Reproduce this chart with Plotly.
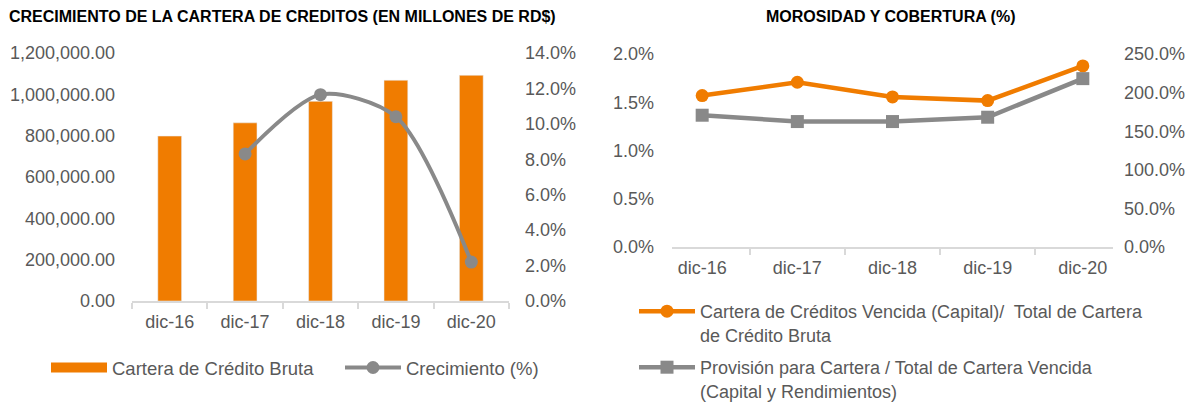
import plotly.graph_objects as go

# ---- data ----
categories = ["dic-16", "dic-17", "dic-18", "dic-19", "dic-20"]
cartera_bruta = [798000, 862000, 966000, 1068000, 1092000]
crecimiento_cat = ["dic-17", "dic-18", "dic-19", "dic-20"]
crecimiento = [0.083, 0.1165, 0.104, 0.022]
morosidad = [0.01569, 0.01707, 0.01555, 0.01517, 0.01876]
cobertura = [1.707, 1.625, 1.625, 1.681, 2.181]

title_left = "CRECIMIENTO DE LA CARTERA DE CREDITOS (EN MILLONES DE RD$)"
title_right = "MOROSIDAD Y COBERTURA (%)"
name_bar = "Cartera de Crédito Bruta"
name_growth = "Crecimiento (%)"
name_moro = "Cartera de Créditos Vencida (Capital)/  Total de Cartera<br>de Crédito Bruta"
name_cob = "Provisión para Cartera / Total de Cartera Vencida<br>(Capital y Rendimientos)"

ORANGE = "#F07C00"
GRAY = "#898989"
TXT = "#595959"
AXIS = "#D9D9D9"
FONT = "Liberation Sans, Arial, sans-serif"

W, H = 1194, 402
def px(x):
    return x / W
def py(y):
    return 1 - y / H

fig = go.Figure()

# left chart
fig.add_trace(go.Bar(x=categories, y=cartera_bruta, marker_color=ORANGE,
                     showlegend=False, xaxis="x", yaxis="y"))
fig.add_trace(go.Scatter(x=[None], y=[None], mode="lines", name=name_bar,
                         line=dict(color=ORANGE, width=10), xaxis="x", yaxis="y",
                         legend="legend"))
fig.add_trace(go.Scatter(x=crecimiento_cat, y=crecimiento, mode="lines+markers",
                         name=name_growth, line=dict(color=GRAY, width=4, shape="spline", smoothing=0.8),
                         marker=dict(color=GRAY, size=13, symbol="circle"),
                         xaxis="x", yaxis="y2", legend="legend2"))

# right chart
fig.add_trace(go.Scatter(x=categories, y=morosidad, mode="lines+markers", name=name_moro,
                         line=dict(color=ORANGE, width=4.5),
                         marker=dict(color=ORANGE, size=13, symbol="circle"),
                         xaxis="x2", yaxis="y3", legend="legend3"))
fig.add_trace(go.Scatter(x=categories, y=cobertura, mode="lines+markers", name=name_cob,
                         line=dict(color=GRAY, width=4.5),
                         marker=dict(color=GRAY, size=13, symbol="square"),
                         xaxis="x2", yaxis="y4", legend="legend4"))

tickfont = dict(family=FONT, size=18, color=TXT)
xcommon = dict(type="category", showline=True, linecolor=AXIS, linewidth=1.5,
               ticks="outside", tickson="boundaries", ticklen=6, tickcolor=AXIS, tickwidth=1.5,
               ticklabelstandoff=4, automargin=False,
               showgrid=False, zeroline=False, tickfont=tickfont, fixedrange=True)
ycommon = dict(showgrid=False, zeroline=False, showline=False, tickfont=tickfont,
               automargin=False, fixedrange=True)
legfont = dict(family=FONT, size=18.5, color=TXT)
legfont_r = dict(family=FONT, size=18, color=TXT)

fig.update_layout(
    width=W, height=H, margin=dict(l=0, r=0, t=0, b=0, autoexpand=False),
    paper_bgcolor="white", plot_bgcolor="white",
    bargap=0.685,
    font=dict(family=FONT, color=TXT),
    xaxis=dict(domain=[px(132), px(509)], anchor="y", **xcommon),
    yaxis=dict(domain=[py(301), py(53)], range=[0, 1200000], dtick=200000,
               tickformat=",.2f", ticklabelstandoff=16, **ycommon),
    yaxis2=dict(overlaying="y", side="right", anchor="x", range=[0, 0.14], dtick=0.02,
                tickformat=".1%", ticklabelstandoff=15, **ycommon),
    xaxis2=dict(domain=[px(672), px(1113)], anchor="y3", **xcommon),
    yaxis3=dict(domain=[py(247), py(54)], anchor="x2", range=[0, 0.02], dtick=0.005,
                tickformat=".1%", ticklabelstandoff=17, **ycommon),
    yaxis4=dict(overlaying="y3", side="right", anchor="x2", range=[0, 2.5], dtick=0.5,
                tickformat=".1%", ticklabelstandoff=10, **ycommon),
    legend=dict(x=px(46), y=py(368), xanchor="left", yanchor="middle", itemwidth=56,
                font=legfont, bgcolor="rgba(0,0,0,0)"),
    legend2=dict(x=px(340), y=py(368), xanchor="left", yanchor="middle", itemwidth=56,
                 font=legfont, bgcolor="rgba(0,0,0,0)"),
    legend3=dict(x=px(634), y=py(293), xanchor="left", yanchor="top", itemwidth=56, valign="top",
                 font=legfont_r, bgcolor="rgba(0,0,0,0)"),
    legend4=dict(x=px(634), y=py(349), xanchor="left", yanchor="top", itemwidth=56, valign="top",
                 font=legfont_r, bgcolor="rgba(0,0,0,0)"),
    annotations=[
        dict(text="<b>" + title_left + "</b>", x=px(7), y=py(17), xref="paper", yref="paper",
             xanchor="left", yanchor="middle", showarrow=False,
             font=dict(family=FONT, size=16, color="#000000")),
        dict(text="<b>" + title_right + "</b>", x=px(891), y=py(17), xref="paper", yref="paper",
             xanchor="center", yanchor="middle", showarrow=False,
             font=dict(family=FONT, size=16, color="#000000")),
    ],
)

fig.write_html("out.html", config={"displayModeBar": False},
               post_script="document.body.style.margin='0';")
